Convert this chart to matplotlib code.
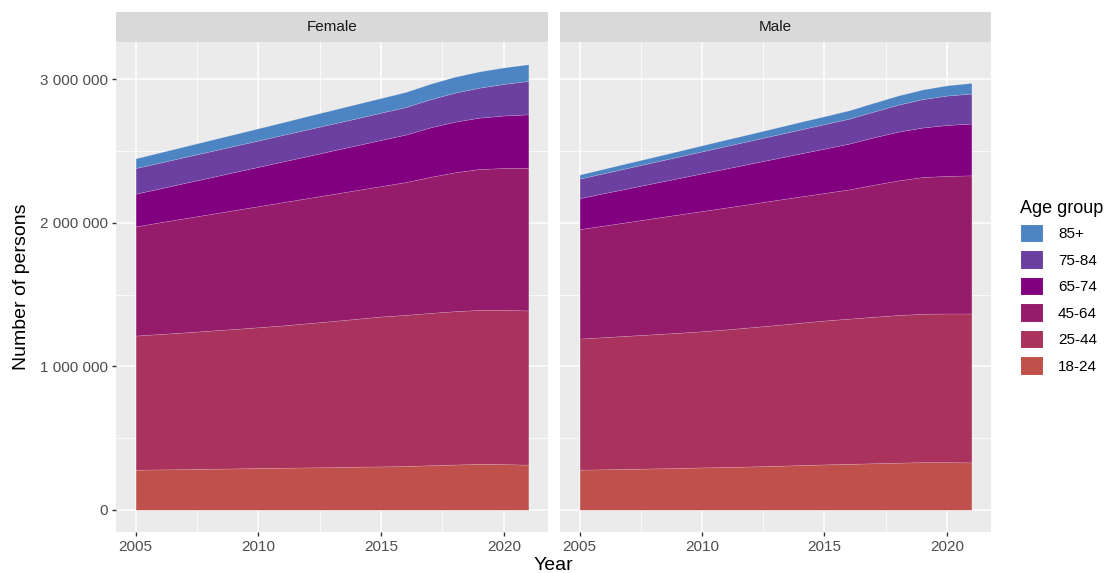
import numpy as np
import matplotlib.pyplot as plt
from matplotlib.patches import Patch, Rectangle
from matplotlib.ticker import FuncFormatter, MultipleLocator

plt.rcParams['font.family'] = ['Liberation Sans', 'DejaVu Sans']

years = list(range(2005, 2022))
age_groups = ['18-24', '25-44', '45-64', '65-74', '75-84', '85+']
colors = ['#C0504B', '#A9335C', '#951C6B', '#810080', '#6C40A0', '#4D84C3']

# persons, in thousands
female = {
    '18-24': [279, 281, 283, 286, 288, 291, 293, 295, 297, 300, 302, 305, 310, 315, 320, 318, 314],
    '25-44': [935, 944, 953, 962, 972, 981, 992, 1005, 1018, 1031, 1045, 1053, 1062, 1069, 1073, 1075, 1075],
    '45-64': [761, 779, 796, 812, 828, 844, 859, 872, 885, 897, 909, 926, 948, 968, 982, 989, 995],
    '65-74': [228, 236, 246, 255, 265, 274, 284, 293, 303, 312, 322, 331, 345, 353, 358, 366, 372],
    '75-84': [179, 180, 181, 182, 183, 184, 185, 186, 187, 188, 190, 192, 196, 202, 209, 220, 233],
    '85+':   [67, 71, 74, 78, 81, 85, 88, 93, 96, 100, 102, 105, 108, 111, 113, 115, 116],
}
male = {
    '18-24': [279, 282, 285, 288, 291, 295, 298, 302, 306, 311, 316, 320, 324, 328, 332, 332, 330],
    '25-44': [914, 921, 928, 935, 942, 949, 959, 970, 981, 992, 1003, 1012, 1021, 1029, 1034, 1036, 1038],
    '45-64': [763, 778, 793, 809, 824, 838, 850, 860, 871, 880, 889, 901, 920, 938, 953, 959, 963],
    '65-74': [216, 226, 235, 244, 253, 263, 272, 282, 290, 300, 309, 319, 330, 340, 345, 355, 361],
    '75-84': [136, 139, 143, 146, 150, 153, 157, 160, 164, 167, 171, 174, 180, 188, 198, 205, 209],
    '85+':   [28, 31, 34, 36, 39, 42, 45, 47, 50, 53, 55, 58, 61, 64, 67, 71, 74],
}
panels = [('Female', female), ('Male', male)]

W, H = 1107, 573
fig = plt.figure(figsize=(W / 100, H / 100), dpi=100)

panel_x = [(116, 548), (560, 991)]
top_px, bot_px = 42, 532
strip_top = 12

ymax = 3105000
yr = (-0.05 * ymax, 1.05 * ymax)

def fmt(v, pos):
    return '{:,}'.format(int(v)).replace(',', ' ')

for i, (name, data) in enumerate(panels):
    x0, x1 = panel_x[i]
    ax = fig.add_axes([x0 / W, 1 - bot_px / H, (x1 - x0) / W, (bot_px - top_px) / H])
    ax.set_facecolor('#EBEBEB')
    vals = [np.array(data[g]) * 1000 for g in age_groups]
    ax.stackplot(years, *vals, colors=colors, linewidth=0.4, edgecolor='#FFFFFF40')
    ax.set_xlim(2005 - 0.8, 2021 + 0.8)
    ax.set_ylim(*yr)
    ax.xaxis.set_major_locator(MultipleLocator(5))
    ax.xaxis.set_minor_locator(MultipleLocator(2.5))
    ax.yaxis.set_major_locator(MultipleLocator(1000000))
    ax.yaxis.set_minor_locator(MultipleLocator(500000))
    ax.grid(which='major', color='white', linewidth=1.1)
    ax.grid(which='minor', color='white', linewidth=0.55)
    ax.set_axisbelow(True)
    for s in ax.spines.values():
        s.set_visible(False)
    ax.tick_params(which='minor', length=0)
    ax.tick_params(which='major', length=3, width=1, color='#333333',
                   labelsize=11, labelcolor='#4D4D4D', pad=3)
    ax.yaxis.set_major_formatter(FuncFormatter(fmt))
    if i > 0:
        ax.tick_params(axis='y', which='major', length=0, labelleft=False)

    sax = fig.add_axes([x0 / W, 1 - top_px / H, (x1 - x0) / W, (top_px - strip_top) / H])
    sax.add_patch(Rectangle((0, 0), 1, 1, color='#D9D9D9', transform=sax.transAxes))
    sax.set_axis_off()
    sax.text(0.5, 0.5, name, ha='center', va='center', fontsize=11, color='#1A1A1A',
             transform=sax.transAxes)

fig.text((116 + 991) / 2 / W, 1 - 565 / H, 'Year', ha='center', va='center', fontsize=14)
fig.text(22 / W, 1 - 287 / H, 'Number of persons', ha='center', va='center',
         rotation=90, fontsize=14)

handles = [Patch(facecolor=colors[k], edgecolor='white', linewidth=1.5, label=age_groups[k])
           for k in range(len(age_groups) - 1, -1, -1)]
leg = fig.legend(handles=handles, loc='upper left', bbox_to_anchor=(1009 / W, 1 - 189 / H),
                 title='Age group', frameon=False, fontsize=11, title_fontsize=13,
                 handlelength=1.6, handleheight=1.6, labelspacing=0.45, handletextpad=0.9,
                 borderpad=0.2)
leg._legend_box.align = 'left'

fig.savefig('out.png', dpi=100)
